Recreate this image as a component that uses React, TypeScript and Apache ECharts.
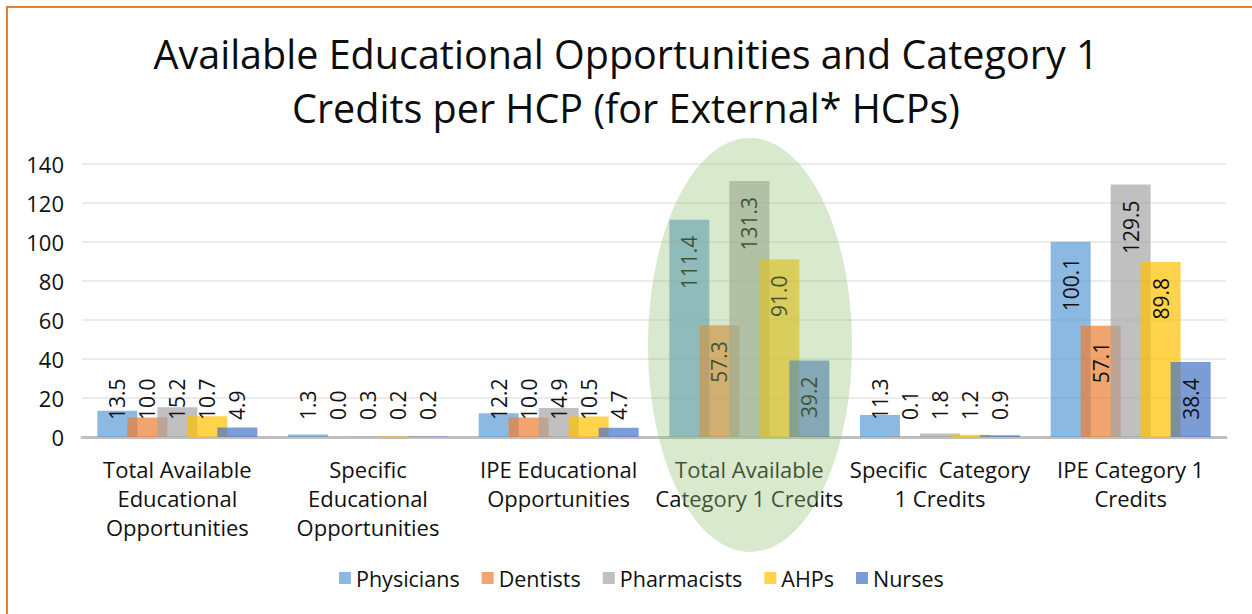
import React, { useEffect, useRef } from "react";
import * as echarts from "echarts";

const categories = [
  "Total Available\nEducational\nOpportunities",
  "Specific\nEducational\nOpportunities",
  "IPE Educational\nOpportunities",
  "Total Available\nCategory 1 Credits",
  "Specific  Category\n1 Credits",
  "IPE Category 1\nCredits",
];
const seriesNames = ["Physicians", "Dentists", "Pharmacists", "AHPs", "Nurses"];
const physicians = [13.5, 1.3, 12.2, 111.4, 11.3, 100.1];
const dentists = [10.0, 0.0, 10.0, 57.3, 0.1, 57.1];
const pharmacists = [15.2, 0.3, 14.9, 131.3, 1.8, 129.5];
const ahps = [10.7, 0.2, 10.5, 91.0, 1.2, 89.8];
const nurses = [4.9, 0.2, 4.7, 39.2, 0.9, 38.4];
const colors = [
  "rgba(91,155,213,0.7)",
  "rgba(237,125,49,0.7)",
  "rgba(165,165,165,0.7)",
  "rgba(255,192,0,0.7)",
  "rgba(68,114,196,0.7)",
];
const yTicks = { min: 0, max: 140, interval: 20 };

const FONT = "'Open Sans', 'Noto Sans', sans-serif";

export default function App() {
  const ref = useRef<HTMLDivElement>(null);
  useEffect(() => {
    if (!ref.current) return;
    const chart = echarts.init(ref.current, undefined, { renderer: "svg" });
    const allData = [physicians, dentists, pharmacists, ahps, nurses];
    const series = allData.map((vals, si) => ({
      name: seriesNames[si],
      type: "bar",
      barWidth: 40,
      barGap: "-25%",
      itemStyle: { color: colors[si] },
      data: vals.map((v) => ({
        value: v,
        label:
          v >= 30
            ? { position: "insideTop", distance: 16, align: "right" }
            : { position: "insideBottom", distance: 17, align: "left" },
      })),
      label: {
        show: true,
        rotate: 90,
        verticalAlign: "middle",
        fontSize: 21,
        fontFamily: FONT,
        color: "#111",
        formatter: (p: any) => Number(p.value).toFixed(1),
      },
    }));
    chart.setOption({
      animation: false,
      title: {
        text: "Available Educational Opportunities and Category 1\nCredits per HCP (for External* HCPs)",
        left: "center",
        top: 22,
        textStyle: {
          fontSize: 39.5,
          fontWeight: "normal",
          fontFamily: FONT,
          color: "#0d0d0d",
          lineHeight: 54,
        },
      },
      legend: {
        bottom: 20,
        left: 334,
        icon: "rect",
        itemWidth: 12,
        itemHeight: 12,
        itemGap: 22,
        textStyle: { fontSize: 21.5, fontFamily: FONT, color: "#111" },
        data: seriesNames,
      },
      grid: { left: 82, right: 26, top: 164, bottom: 177, containLabel: false },
      xAxis: {
        type: "category",
        data: categories,
        axisLine: { lineStyle: { color: "#BFBFBF", width: 3 } },
        axisTick: { show: false },
        axisLabel: {
          fontSize: 22,
          lineHeight: 29,
          fontFamily: FONT,
          color: "#111",
          margin: 17,
          interval: 0,
        },
      },
      yAxis: {
        type: "value",
        min: yTicks.min,
        max: yTicks.max,
        interval: yTicks.interval,
        axisLine: { show: false },
        axisTick: { show: false },
        splitLine: { lineStyle: { color: "#E6E6E6", width: 1.5 } },
        axisLabel: { fontSize: 22, fontFamily: FONT, color: "#111", margin: 18 },
      },
      series,
      graphic: [
        {
          type: "ellipse",
          z: 100,
          silent: true,
          shape: { cx: 750, cy: 345, rx: 102, ry: 207 },
          style: { fill: "rgba(150,195,120,0.36)" },
        },
        {
          type: "line",
          z: 100,
          shape: { x1: 6, y1: 7, x2: 1252, y2: 7 },
          style: { stroke: "#ED7D31", lineWidth: 2 },
        },
        {
          type: "line",
          z: 100,
          shape: { x1: 7, y1: 6, x2: 7, y2: 614 },
          style: { stroke: "#ED7D31", lineWidth: 2 },
        },
      ],
    });
    return () => chart.dispose();
  }, []);
  return (
    <div
      ref={ref}
      style={{ position: "fixed", left: 0, top: 0, width: 1252, height: 614, background: "#fff" }}
    />
  );
}
